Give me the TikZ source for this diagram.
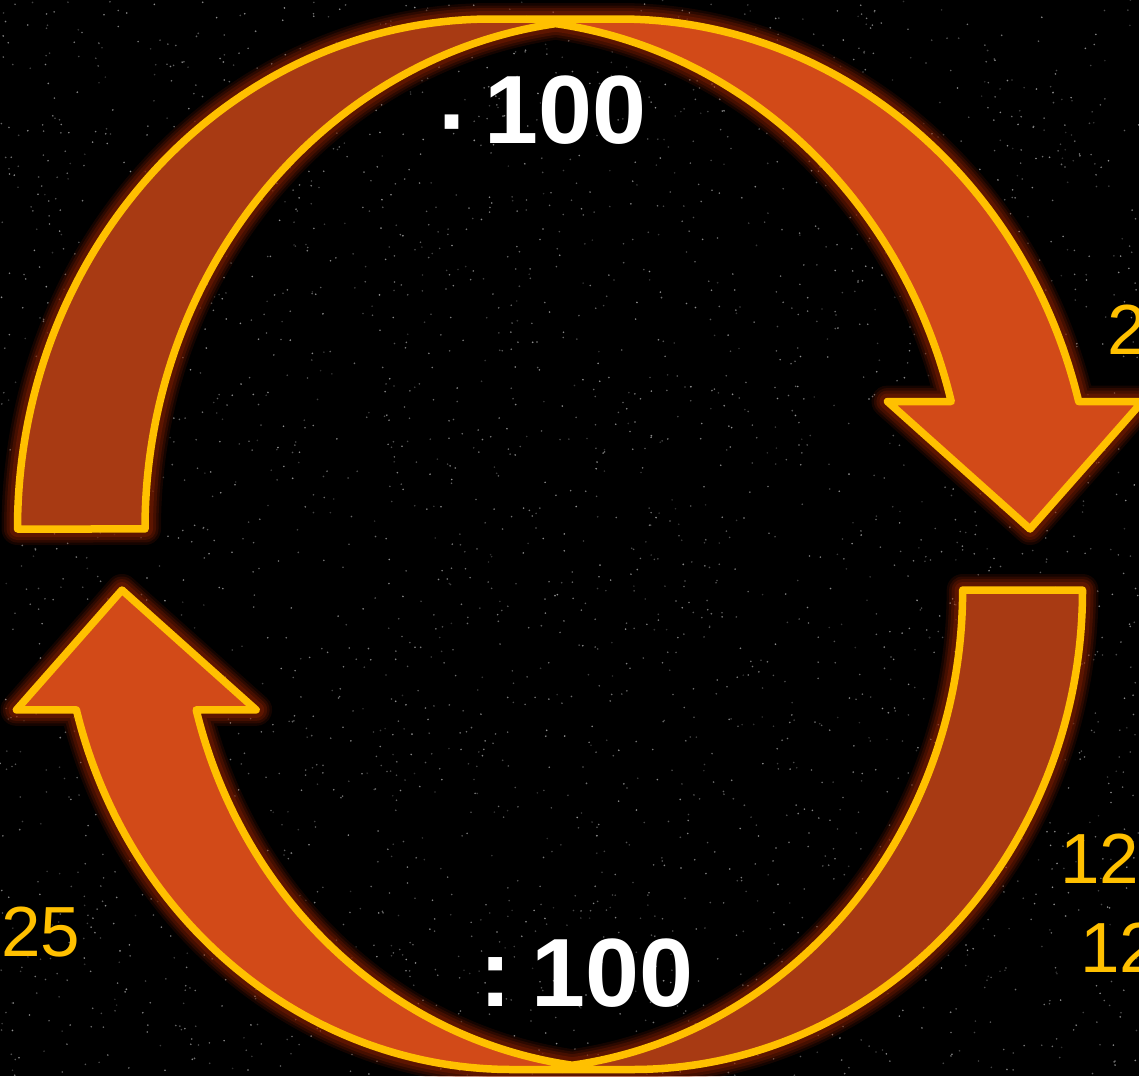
\documentclass[tikz,border=0pt]{standalone}
\usepackage{fontspec}
\setmainfont{Liberation Sans}
\definecolor{gold}{RGB}{255,192,0}
\definecolor{lightor}{RGB}{210,74,24}
\definecolor{darkor}{RGB}{168,58,19}
\definecolor{glowc}{RGB}{150,35,0}
\tikzset{
  whitetxt/.style={text=white, font=\bfseries\fontsize{97}{100}\selectfont, inner sep=0pt},
  goldtxt/.style={text=gold, font=\fontsize{71}{74}\selectfont, inner sep=0pt},
}
% curved ribbon arrow: #1 = width, #2 = height, drawn with top-left corner at origin
\newcommand{\curvedribbon}[2]{%
  \pgfmathsetmacro\rW{#1}%
  \pgfmathsetmacro\rH{#2}%
  \pgfmathsetmacro\rSS{min(#1,#2)}%
  \pgfmathsetmacro\rTH{0.25*\rSS}%
  \pgfmathsetmacro\rAW{0.5*\rSS}%
  \pgfmathsetmacro\rAH{0.25*\rSS}%
  \pgfmathsetmacro\rR{\rW/2-(\rTH+\rAW)/4}%
  \pgfmathsetmacro\rDX{\rR*sqrt(1-(\rAH/\rH)^2)}%
  \pgfmathsetmacro\rTA{asin(\rAH/\rH)}%
  \pgfmathsetmacro\rXa{\rR+\rDX}%
  \pgfmathsetmacro\rXc{\rR+\rTH}%
  \pgfmathsetmacro\rXb{\rXc+\rDX}%
  \pgfmathsetmacro\rDH{(\rAW-\rTH)/2}%
  \pgfmathsetmacro\rXw{\rXa-\rDH}%
  \pgfmathsetmacro\rXe{\rXb+\rDH}%
  \pgfmathsetmacro\rXt{\rW-\rAW/2}%
  \pgfmathsetmacro\rYa{-\rH+\rAH}%
  \pgfmathsetmacro\rPH{acos(\rTH/(2*\rR))}%
  \pgfmathsetmacro\rPHb{180-\rPH}%
  \pgfmathsetmacro\rIX{\rR+\rTH/2}%
  \pgfmathsetmacro\rIY{-\rH+\rH*sin(\rPH)}%
  \def\unionpath{(0,-\rH) arc[start angle=180, end angle=90, x radius=\rR, y radius=\rH]
     -- (\rXc,0) arc[start angle=90, end angle=\rTA, x radius=\rR, y radius=\rH]
     -- (\rXe,\rYa) -- (\rXt,-\rH) -- (\rXw,\rYa) -- (\rXa,\rYa)
     arc[start angle=\rTA, end angle=\rPH, x radius=\rR, y radius=\rH]
     arc[start angle=\rPHb, end angle=180, x radius=\rR, y radius=\rH] -- cycle}%
  \foreach \gw/\go in {32/0.14, 27/0.18, 22/0.24, 16/0.3}{%
    \draw[glowc, line width=\gw pt, opacity=\go, line join=round] \unionpath;}%
  \fill[lightor] (\rXt,-\rH) -- (\rXw,\rYa) -- (\rXa,\rYa)
     arc[start angle=\rTA, end angle=90, x radius=\rR, y radius=\rH]
     -- (\rXc,0) arc[start angle=90, end angle=\rTA, x radius=\rR, y radius=\rH]
     -- (\rXe,\rYa) -- cycle;
  \fill[darkor] (\rIX,\rIY) arc[start angle=\rPHb, end angle=180, x radius=\rR, y radius=\rH]
     -- (0,-\rH) arc[start angle=180, end angle=\rPH, x radius=\rR, y radius=\rH] -- cycle;
  \draw[gold, line width=7.5pt, line join=round] \unionpath;
}
\begin{document}
\begin{tikzpicture}[x=1pt, y=1pt]
  \useasboundingbox (0,0) rectangle (1139,-1076);
  \fill[black] (0,0) rectangle (1139,-1076);
  % star field
  \pgfmathsetseed{12345}
  \foreach \i in {1,...,3200}{%
    \pgfmathsetmacro\sx{1139*rnd}%
    \pgfmathsetmacro\sy{-1076*rnd}%
    \pgfmathtruncatemacro\sg{18+40*rnd}%
    \fill[white!\sg!black] (\sx,\sy) circle[radius=0.9];
  }
  % top ribbon arrow
  \begin{scope}[shift={(17.5,-19)}]
    \curvedribbon{1140}{510}
  \end{scope}
  % bottom ribbon arrow (rotated)
  \begin{scope}[shift={(1082.5,-1069.5)}, rotate=180]
    \curvedribbon{1080.4}{479.5}
  \end{scope}
  % labels
  \node[whitetxt, anchor=base east] (ttop) at (647,-143) {\raisebox{-11pt}{·}\kern-13pt\ 100};
  \node[whitetxt, anchor=base east] (tbot) at (694,-1006) {:\kern-7pt\ 100};
  \node[goldtxt, anchor=base west] (o1) at (1107,-354) {2};
  \node[goldtxt, anchor=base west] (o2) at (1060,-883) {12};
  \node[goldtxt, anchor=base west] (o3) at (1080,-972) {12};
  \node[goldtxt, anchor=base west] (o4) at (1,-956) {25};
\end{tikzpicture}
\end{document}
